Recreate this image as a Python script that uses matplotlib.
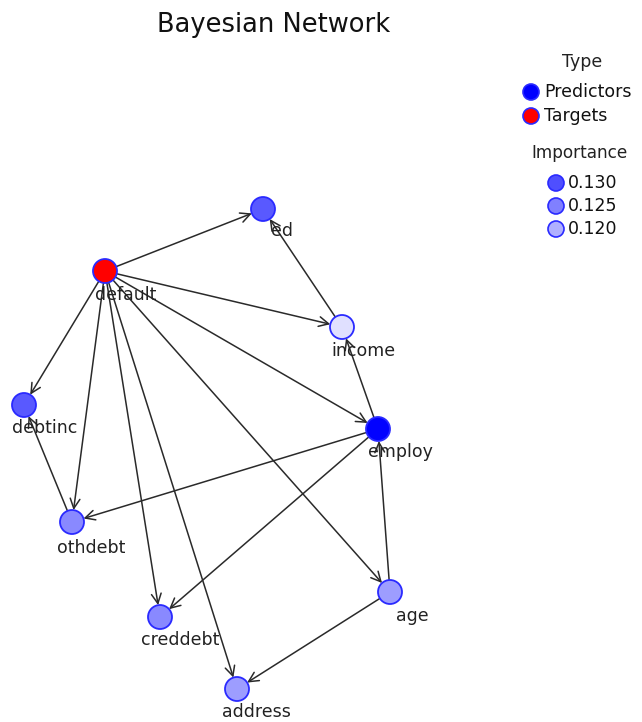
import matplotlib
matplotlib.use("Agg")
import matplotlib.pyplot as plt
import numpy as np

# node layout (pixel space of the original chart) and attributes
nodes = ["ed", "default", "income", "debtinc", "employ",
         "othdebt", "age", "creddebt", "address"]
node_x = [263, 105, 342, 24, 378, 72, 390, 160, 237]
node_y = [209, 271, 327, 405, 429, 522, 592, 617, 689]
node_type = ["Predictor", "Target", "Predictor", "Predictor", "Predictor",
             "Predictor", "Predictor", "Predictor", "Predictor"]
importance = [0.129, np.nan, 0.115, 0.129, 0.138, 0.124, 0.122, 0.124, 0.122]

# label offsets from node centre
label_dx = [8, -10, -11, -12, -10, -15, 6, -19, -15]
label_dy = [22, 24, 24, 23, 23, 26, 24, 23, 23]

edges = [("default", "ed"), ("income", "ed"), ("default", "income"),
         ("employ", "income"), ("default", "employ"), ("default", "debtinc"),
         ("default", "othdebt"), ("othdebt", "debtinc"), ("employ", "othdebt"),
         ("default", "creddebt"), ("employ", "creddebt"), ("default", "address"),
         ("default", "age"), ("age", "employ"), ("age", "address")]

legend_importance = [0.130, 0.125, 0.120]

R = 12


def imp_color(v):
    f = np.clip(0.5 + (v - 0.125) * 38, 0, 1)
    g = 1 - f
    return (g, g, 1.0)


fig = plt.figure(figsize=(6.42, 7.22), dpi=100)
ax = fig.add_axes([0, 0, 1, 1])
ax.set_xlim(0, 642)
ax.set_ylim(722, 0)
ax.axis("off")

pos = {n: (x, y) for n, x, y in zip(nodes, node_x, node_y)}

for s, t in edges:
    x0, y0 = pos[s]
    x1, y1 = pos[t]
    d = np.hypot(x1 - x0, y1 - y0)
    ux, uy = (x1 - x0) / d, (y1 - y0) / d
    ax.annotate("", xy=(x1 - ux * R, y1 - uy * R), xytext=(x0 + ux * R, y0 + uy * R),
                arrowprops=dict(arrowstyle="->,head_length=0.7,head_width=0.35",
                                color="#2a2a2a", lw=1.1, shrinkA=0, shrinkB=0),
                zorder=1)

for n, x, y, tp, imp, dx, dy in zip(nodes, node_x, node_y, node_type, importance,
                                    label_dx, label_dy):
    fc = "#ff0000" if tp == "Target" else imp_color(imp)
    ax.add_patch(plt.Circle((x, y), R, facecolor=fc, edgecolor="#2a2aff",
                            lw=1.3, zorder=2))
    ax.text(x + dx, y + dy, n, fontsize=12.5, color="#222222",
            ha="left", va="center", zorder=3)

ax.text(274, 25, "Bayesian Network", fontsize=18.5, color="#111111",
        ha="center", va="center")

# legend: type
ax.text(582, 62, "Type", fontsize=12.5, color="#222222", ha="center", va="center")
for i, (lab, c) in enumerate([("Predictors", "#0000ff"), ("Targets", "#ff0000")]):
    yy = 92 + i * 24
    ax.add_patch(plt.Circle((531, yy), 8, facecolor=c, edgecolor="#2a2aff", lw=1.2))
    ax.text(544, yy, lab, fontsize=12.5, color="#111111", ha="left", va="center")

# legend: importance
ax.text(531, 153, "Importance", fontsize=12.2, color="#222222", ha="left", va="center")
for i, v in enumerate(legend_importance):
    yy = 183 + i * 23
    ax.add_patch(plt.Circle((556, yy), 8, facecolor=imp_color(v),
                            edgecolor="#2a2aff", lw=1.2))
    ax.text(568, yy, f"{v:.3f}", fontsize=12.5, color="#111111",
            ha="left", va="center")

fig.savefig("out.png", dpi=100)
